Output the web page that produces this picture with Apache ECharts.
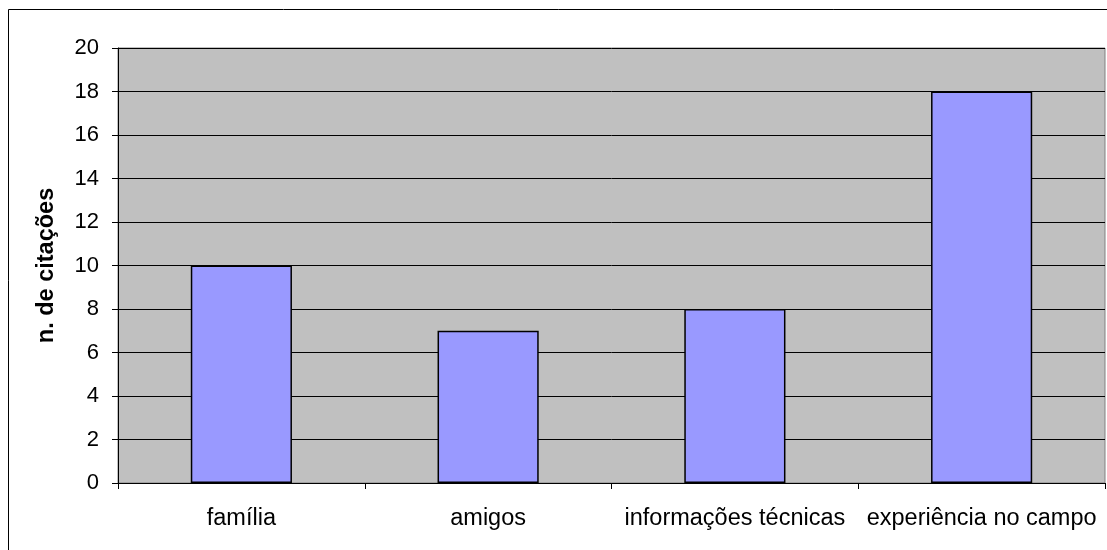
<!DOCTYPE html>
<html>
<head>
<meta charset="utf-8">
<script src="https://cdn.jsdelivr.net/npm/echarts@6/dist/echarts.min.js"></script>
<style>
  html, body { margin: 0; padding: 0; background: #fff; }
  #chart { width: 1107px; height: 550px; }
</style>
</head>
<body>
<div id="chart"></div>
<script>
const categories = ['família', 'amigos', 'informações técnicas', 'experiência no campo']
const citacoes = [10, 7, 8, 18]
const yTicks = [0, 2, 4, 6, 8, 10, 12, 14, 16, 18, 20]

const chart = echarts.init(document.getElementById('chart'))

chart.setOption({
  animation: false,
  textStyle: { fontFamily: 'Liberation Sans, Arial, sans-serif' },
  graphic: [{
    // outer chart frame (right/bottom edges fall outside the picture)
    type: 'rect',
    shape: { x: 8.5, y: 9.5, width: 1200, height: 600 },
    style: { fill: null, stroke: '#000', lineWidth: 1 },
    z: 100
  }],
  grid: {
    left: 118,
    top: 48,
    right: 2,
    bottom: 67,
    show: true,
    backgroundColor: '#c0c0c0',
    borderColor: '#808080',
    borderWidth: 1
  },
  xAxis: {
    type: 'category',
    data: categories,
    axisLine: { lineStyle: { color: '#000', width: 1 } },
    axisTick: { show: true, length: 6, lineStyle: { color: '#000' } },
    axisLabel: { color: '#000', fontSize: 23.5, margin: 24, interval: 0 }
  },
  yAxis: {
    type: 'value',
    min: yTicks[0],
    max: yTicks[yTicks.length - 1],
    interval: 2,
    name: 'n. de citações',
    nameLocation: 'middle',
    nameGap: 59,
    nameTextStyle: { color: '#000', fontSize: 23.5, fontWeight: 'bold' },
    axisLine: { show: true, lineStyle: { color: '#000', width: 1 } },
    axisTick: { show: true, length: 6, lineStyle: { color: '#000' } },
    axisLabel: { color: '#000', fontSize: 22, margin: 19 },
    splitLine: { show: true, lineStyle: { color: '#000', width: 1 } }
  },
  series: [{
    name: 'n. de citações',
    type: 'bar',
    data: citacoes,
    barWidth: '41%',
    itemStyle: {
      color: '#9999ff',
      borderColor: '#000',
      borderWidth: 1.5
    }
  }]
})
</script>
</body>
</html>
